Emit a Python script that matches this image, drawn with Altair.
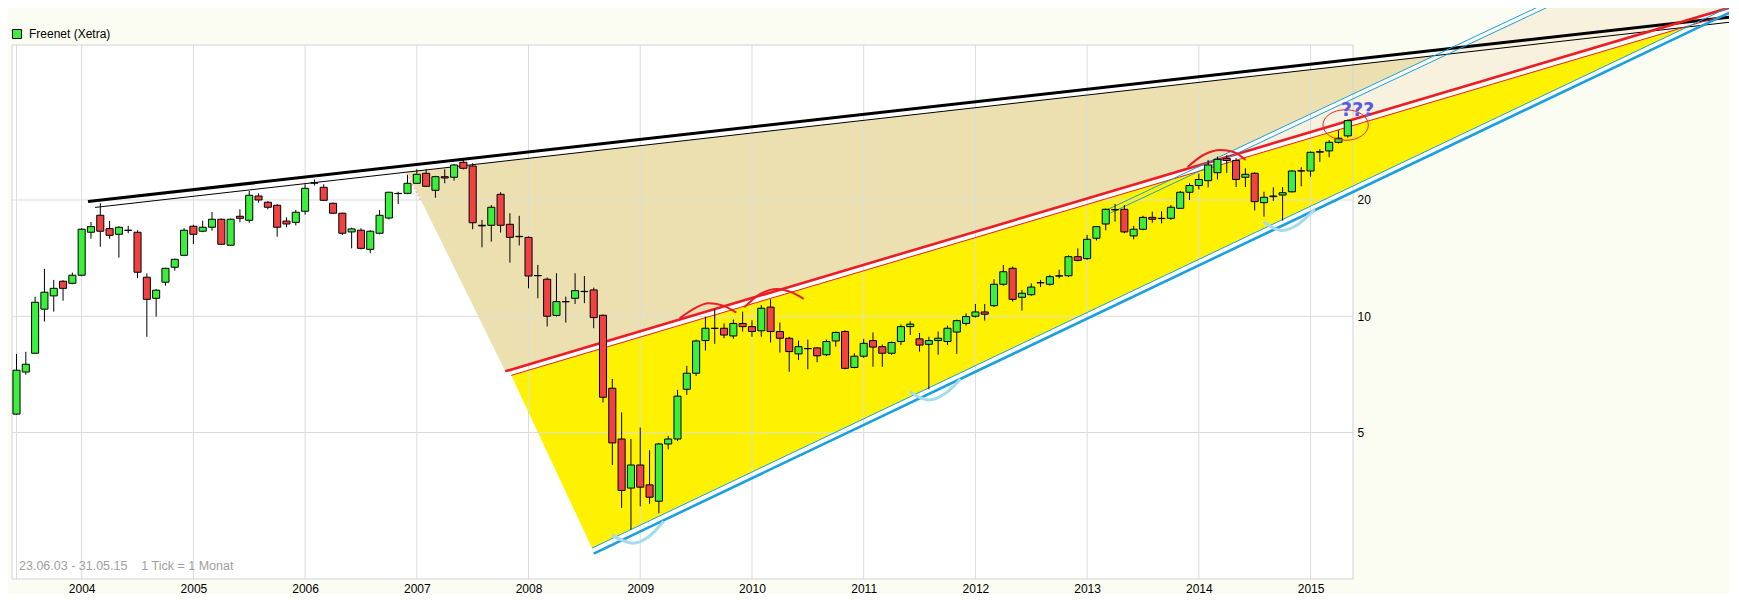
import altair as alt
import pandas as pd

# ---------------- data ----------------
months = pd.date_range("2003-06-01", "2015-05-01", freq="MS").strftime("%Y-%m").tolist()

open_ = [5.58, 7.17, 8.02, 10.43, 11.29, 12.32, 12.17, 12.77, 16.50, 18.26, 16.86, 16.30,
         16.70, 16.50, 12.62, 11.13, 12.25, 13.39, 14.38, 17.10, 16.60, 17.00, 17.83, 15.27,
         18.15, 17.72, 20.48, 19.73, 19.38, 17.64, 17.50, 18.70, 22.17, 21.57, 19.61, 18.48,
         16.53, 16.70, 14.90, 16.40, 17.96, 20.80, 20.81, 22.09, 23.45, 21.19, 22.98, 22.90,
         25.04, 24.49, 17.20, 17.20, 20.69, 17.30, 16.10, 16.00, 12.75, 12.47, 10.05, 10.90,
         11.13, 11.60, 11.70, 10.06, 6.51, 4.81, 3.59, 4.12, 3.66, 3.32, 4.67, 4.81,
         6.47, 7.12, 8.65, 9.30, 9.31, 8.89, 9.58, 9.40, 9.17, 10.56, 9.13, 8.77,
         7.99, 8.25, 8.28, 7.95, 8.63, 9.13, 7.37, 7.88, 8.65, 8.34, 8.02, 8.60,
         9.40, 8.74, 8.46, 8.65, 8.60, 9.10, 9.58, 10.00, 10.26, 10.65, 12.10, 13.31,
         11.20, 11.37, 12.20, 12.10, 12.70, 12.73, 14.26, 14.10, 15.92, 17.33, 18.90, 18.92,
         16.14, 16.80, 18.03, 17.90, 17.93, 19.03, 20.94, 21.80, 22.44, 23.53, 25.60, 25.30,
         22.90, 23.45, 19.68, 20.40, 20.60, 21.00, 23.80, 23.77, 26.60, 26.80, 28.20, 29.30]

high = [7.99, 8.09, 11.24, 13.26, 12.42, 12.40, 12.97, 16.90, 17.54, 19.61, 17.64, 17.10,
        17.14, 16.70, 12.92, 11.75, 13.35, 14.10, 16.90, 17.26, 17.68, 18.62, 17.90, 17.90,
        18.92, 21.10, 20.81, 19.88, 19.50, 18.03, 18.85, 21.96, 22.60, 21.96, 19.70, 18.55,
        16.96, 16.90, 16.70, 18.85, 21.00, 21.00, 23.20, 24.01, 24.01, 23.10, 24.01, 24.80,
        25.40, 24.90, 17.76, 19.40, 20.94, 18.48, 18.20, 16.10, 13.58, 12.60, 12.92, 11.24,
        12.92, 12.71, 11.86, 10.10, 6.88, 5.64, 4.81, 5.15, 4.50, 4.70, 4.90, 6.45,
        7.44, 8.70, 9.98, 10.43, 9.58, 9.81, 10.28, 9.76, 10.69, 11.06, 9.63, 8.85,
        8.65, 8.70, 8.32, 8.70, 9.13, 9.20, 8.02, 8.74, 9.08, 8.45, 8.60, 9.52,
        9.70, 9.05, 8.85, 9.13, 9.45, 9.80, 10.17, 10.76, 10.76, 12.47, 13.58, 13.45,
        11.70, 12.17, 12.42, 12.80, 13.20, 14.38, 14.99, 16.24, 17.10, 19.00, 19.53, 19.40,
        17.14, 18.20, 18.66, 18.70, 19.40, 21.10, 22.09, 23.40, 25.40, 25.90, 26.10, 25.70,
        24.16, 23.60, 21.00, 21.57, 21.60, 23.90, 24.30, 26.70, 27.10, 28.60, 30.30, 32.30]

low = [5.55, 7.06, 8.00, 9.69, 10.28, 10.97, 12.10, 12.70, 15.88, 15.14, 15.88, 14.18,
       16.40, 12.54, 8.85, 9.98, 12.00, 13.12, 14.30, 15.39, 16.50, 16.66, 15.30, 15.20,
       17.50, 17.46, 19.68, 18.92, 16.07, 17.00, 17.18, 18.33, 21.80, 19.90, 18.40, 16.24,
       14.99, 14.90, 14.56, 16.30, 17.80, 19.53, 20.70, 22.00, 21.60, 20.27, 22.09, 22.44,
       24.00, 16.80, 15.08, 15.60, 16.47, 13.77, 15.25, 11.81, 11.13, 9.41, 9.98, 9.63,
       10.76, 10.81, 9.31, 5.98, 4.12, 3.19, 2.80, 3.22, 3.27, 3.09, 4.52, 4.75,
       6.26, 7.00, 8.15, 8.48, 8.77, 8.74, 9.13, 8.85, 8.85, 8.55, 8.05, 7.18,
       7.70, 7.29, 7.60, 7.88, 8.34, 7.29, 7.33, 7.80, 7.40, 7.40, 7.95, 8.42,
       8.94, 8.10, 6.47, 7.95, 8.42, 7.99, 9.45, 9.92, 9.74, 10.56, 12.00, 10.91,
       10.34, 11.30, 11.90, 12.00, 12.54, 12.62, 13.87, 14.00, 15.70, 16.70, 17.58, 16.40,
       15.82, 16.70, 17.46, 17.40, 17.76, 19.00, 20.00, 21.30, 21.57, 22.60, 23.50, 21.60,
       21.60, 18.78, 18.10, 19.90, 17.70, 20.90, 21.70, 22.98, 25.10, 25.80, 28.00, 29.00]

close = [7.25, 7.51, 10.87, 11.54, 11.81, 11.81, 12.77, 16.80, 17.06, 16.60, 16.20, 17.00,
         16.68, 13.00, 11.06, 11.68, 13.31, 14.04, 16.70, 16.30, 17.00, 17.83, 15.36, 17.83,
         17.93, 20.57, 20.00, 19.15, 17.00, 17.33, 18.59, 21.44, 22.10, 19.96, 18.48, 16.40,
         16.83, 14.99, 16.60, 18.26, 20.94, 20.77, 22.09, 23.31, 21.70, 22.98, 22.80, 24.64,
         24.16, 17.46, 17.14, 19.15, 17.20, 16.00, 16.07, 12.71, 12.73, 10.00, 10.91, 10.91,
         11.65, 11.58, 9.92, 6.17, 4.70, 3.54, 4.12, 3.61, 3.40, 4.67, 4.81, 6.21,
         7.12, 8.63, 9.31, 9.31, 8.94, 9.58, 9.40, 9.13, 10.49, 9.13, 8.77, 8.10,
         8.34, 8.24, 7.90, 8.60, 9.08, 7.33, 7.88, 8.51, 8.32, 8.02, 8.55, 9.40,
         9.54, 8.42, 8.65, 8.77, 9.31, 9.74, 9.98, 10.26, 10.12, 12.10, 13.04, 11.06,
         11.47, 11.90, 12.22, 12.66, 12.73, 14.26, 13.95, 15.82, 17.06, 18.92, 18.85, 16.53,
         16.80, 18.03, 17.83, 17.93, 19.15, 20.94, 21.80, 22.60, 24.64, 25.49, 25.30, 22.60,
         23.31, 19.80, 20.32, 20.48, 20.88, 23.77, 23.77, 26.57, 26.67, 28.20, 28.90, 32.10]

year_idx = [7, 19, 31, 43, 55, 67, 79, 91, 103, 115, 127, 139]   # January of 2004..2015
grid_idx = [0] + year_idx
price_ticks = [5, 10, 20]

# drawn trend lines: (month index, price) at both ends
black_thick_m, black_thick_p = [7.68, 185.1], [19.82, 59.9]
black_thin_m, black_thin_p = [8.44, 185.1], [19.13, 58.1]
red_thick_m, red_thick_p = [52.50, 185.1], [7.20, 64.1]
red_thin_m, red_thin_p = [53.14, 185.1], [7.03, 61.8]
blue_thick_m, blue_thick_p = [62.00, 185.1], [2.43, 62.9]
blue_thin_m, blue_thin_p = [61.82, 185.1], [2.51, 65.1]
lb_a_m, lb_a_p = [117.09, 165.02], [18.84, 65.9]
lb_b_m, lb_b_p = [117.52, 166.11], [18.51, 65.9]
pink_m, pink_p = [41.93, 43.36], [23.45, 20.0]

# filled zones: month index, upper price, lower price
tan_m, tan_top, tan_bot = [41.97, 52.50, 127.61, 152.29], [23.6, 25.23, 40.45, 47.3], [23.6, 7.20, 24.78, 47.3]
yel_m, yel_top, yel_bot = [53.14, 61.82, 179.89], [7.03, 8.12, 56.7], [7.03, 2.51, 56.7]
crm_m, crm_top, crm_bot = [130.64, 166.11, 185.12], [26.07, 65.9, 65.9], [26.07, 46.79, 64.1]

# hand-drawn arcs
red_arcs = {
    "r1": ([71.23, 72.60, 74.35, 75.82, 77.32], [9.88, 10.41, 10.81, 10.67, 10.22]),
    "r2": ([78.18, 79.90, 81.70, 83.13, 84.56], [10.55, 11.42, 11.77, 11.56, 11.09]),
    "r3": ([125.79, 127.50, 129.34, 130.73, 132.03], [24.35, 26.15, 26.94, 26.62, 25.38]),
}
blue_arcs = {
    "b1": ([63.96, 65.07, 66.29, 67.87, 69.51], [2.716, 2.628, 2.584, 2.682, 2.942]),
    "b2": ([95.95, 96.89, 97.99, 99.68, 101.40], [6.38, 6.18, 6.07, 6.29, 6.87]),
    "b3": ([133.96, 134.93, 136.00, 137.72, 139.44], [17.57, 16.97, 16.67, 17.33, 18.92]),
}
ellipse_m, ellipse_p = 142.77, 31.27
qmark_m, qmark_p = 144.06, 34.2

legend_label = "Freenet (Xetra)"
footnote = "23.06.03 - 31.05.15\u00a0\u00a0\u00a0\u00a01 Tick = 1 Monat"

# ---------------- styling ----------------
FONT = "Liberation Sans"
W, H = 1341, 534
GREEN, RED = "#3cef3c", "#f04242"
RED_LINE, BLUE_LINE, LB_ARC = "#ee1c24", "#1a9fe0", "#a4dcec"
TAN, YELLOW, CREAM = "#ede0b0", "#fff200", "#f8f1de"
GRID = "#dcdcdc"

xs = alt.Scale(domain=[-0.483, 143.56], nice=False, zero=False)
ys = alt.Scale(type="log", domain=[2.088, 50.38], nice=False)

x_axis = alt.Axis(values=year_idx, labelExpr="2004 + round((datum.value - 7) / 12)",
                  grid=False, ticks=False, domain=False, labelPadding=4, title=None,
                  labelFont=FONT, labelFontSize=12, labelColor="black",
                  labelFlush=False, labelOverlap=False)
y_axis = alt.Axis(orient="right", values=price_ticks, format="~g", grid=False, ticks=False,
                  domain=False, labelPadding=4, title=None, labelFont=FONT,
                  labelFontSize=12, labelColor="black")


def X(f="m"):
    return alt.X(f"{f}:Q", scale=xs, axis=x_axis)


def Y(f="p"):
    return alt.Y(f"{f}:Q", scale=ys, axis=y_axis)


def zone(m, top, bot, color):
    d = pd.DataFrame({"m": m, "top": top, "bot": bot})
    return alt.Chart(d).mark_area(color=color, opacity=1, clip=False).encode(
        x=X(), y=Y("top"), y2="bot:Q")


def tline(m, p, color, width, dash=None, interp="linear"):
    d = pd.DataFrame({"m": m, "p": p, "k": list(range(len(m)))})
    kw = dict(color=color, strokeWidth=width, clip=False, interpolate=interp)
    if dash:
        kw["strokeDash"] = dash
    return alt.Chart(d).mark_line(**kw).encode(x=X(), y=Y(), order="k:Q")


layers = [
    zone(crm_m, crm_top, crm_bot, CREAM),
    zone(tan_m, tan_top, tan_bot, TAN),
    zone(yel_m, yel_top, yel_bot, YELLOW),
]

# grid and frame
layers.append(alt.Chart(pd.DataFrame({"m": grid_idx})).mark_rule(color=GRID, strokeWidth=1).encode(
    x=X(), y=alt.value(0), y2=alt.value(H)))
layers.append(alt.Chart(pd.DataFrame({"p": price_ticks})).mark_rule(color=GRID, strokeWidth=1).encode(
    y=Y(), x=alt.value(0), x2=alt.value(W)))
layers.append(alt.Chart(alt.Data(values=[{"a": 1}])).mark_rect(
    fill="white", fillOpacity=0, stroke="#d2d2d2", strokeWidth=1).encode(
    x=alt.value(0), x2=alt.value(W), y=alt.value(0), y2=alt.value(H)))

layers += [
    tline(pink_m, pink_p, "#f4a0b6", 1, dash=[2, 2]),
    tline(black_thick_m, black_thick_p, "black", 3),
    tline(black_thin_m, black_thin_p, "black", 1),
    tline(red_thick_m, red_thick_p, RED_LINE, 2.6),
    tline(red_thin_m, red_thin_p, RED_LINE, 1),
    tline(blue_thick_m, blue_thick_p, BLUE_LINE, 2.6),
    tline(blue_thin_m, blue_thin_p, BLUE_LINE, 1),
    tline(lb_a_m, lb_a_p, BLUE_LINE, 1),
    tline(lb_b_m, lb_b_p, BLUE_LINE, 1),
]

# candles
candles = pd.DataFrame({"month": months, "i": list(range(len(months))),
                        "o": open_, "h": high, "l": low, "c": close})
candles["dir"] = ["up" if c >= o else "down" for o, c in zip(open_, close)]

wicks = alt.Chart(candles).mark_rule(color="black", strokeWidth=1).encode(
    x=X("i"), y=Y("l"), y2="h:Q")
bodies = alt.Chart(candles).transform_calculate(
    x0="datum.i - 0.38", x1="datum.i + 0.38"
).mark_rect(stroke="black", strokeWidth=1).encode(
    x=X("x0"), x2="x1:Q", y=Y("o"), y2="c:Q",
    fill=alt.Fill("dir:N", scale=alt.Scale(domain=["up", "down"], range=[GREEN, RED]),
                  legend=alt.Legend(values=["up"], labelExpr=f"'{legend_label}'", title=None,
                                    orient="none", legendX=-1, legendY=-17, padding=0,
                                    symbolType="square", symbolSize=81,
                                    symbolStrokeColor="black", symbolStrokeWidth=1,
                                    labelFont=FONT, labelFontSize=12, labelColor="black",
                                    labelOffset=6)))
layers += [wicks, bodies]

# annotations
for m, p in red_arcs.values():
    layers.append(tline(m, p, RED_LINE, 2, interp="monotone"))
for m, p in blue_arcs.values():
    layers.append(tline(m, p, LB_ARC, 3, interp="monotone"))

ELLIPSE = ("M -1 0 C -1 -0.372 -0.552 -0.674 0 -0.674 C 0.552 -0.674 1 -0.372 1 0 "
           "C 1 0.372 0.552 0.674 0 0.674 C -0.552 0.674 -1 0.372 -1 0 Z")
layers.append(alt.Chart(pd.DataFrame({"m": [ellipse_m], "p": [ellipse_p]})).mark_point(
    shape=ELLIPSE, size=2061, filled=False, color="#e8283a", strokeWidth=1, opacity=1).encode(
    x=X(), y=Y()))
layers.append(alt.Chart(pd.DataFrame({"m": [qmark_m], "p": [qmark_p], "t": ["???"]})).mark_text(
    font="DejaVu Sans", fontSize=19, fontWeight="bold", color="#5a5ae6",
    align="center", baseline="middle").encode(x=X(), y=Y(), text="t:N"))
layers.append(alt.Chart(pd.DataFrame({"t": [footnote]})).mark_text(
    font=FONT, fontSize=12.5, color="#a0a0a0", align="left", baseline="middle").encode(
    x=alt.value(7), y=alt.value(521), text="t:N"))

chart = alt.layer(*layers).properties(
    width=W, height=H,
    padding={"left": 4, "top": 37, "right": 376, "bottom": 15},
    autosize=alt.AutoSizeParams(type="none"),
    background="#fbfdf3",
).configure_view(fill="white", strokeWidth=0)

chart.save("out.html", embed_options={"renderer": "svg", "actions": False})
